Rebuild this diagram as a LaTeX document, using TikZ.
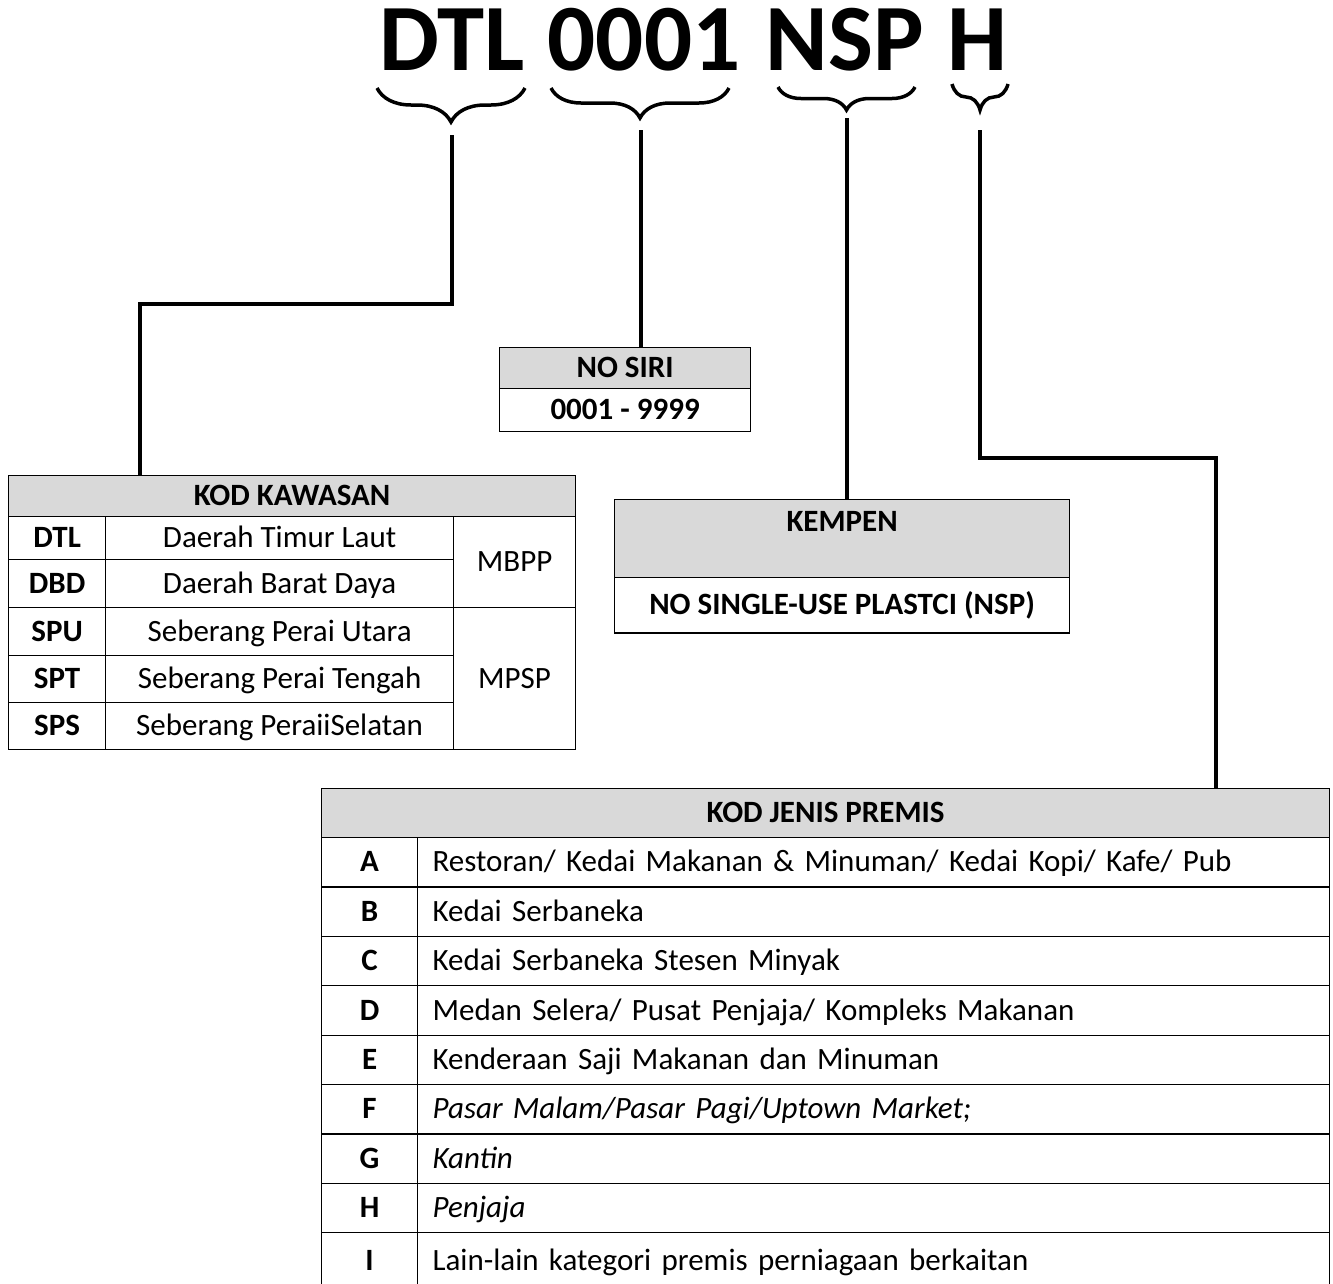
\documentclass[tikz,border=0pt]{standalone}
\usepackage{fontspec}
\setmainfont{Carlito}
\usetikzlibrary{decorations.pathreplacing}
\definecolor{headgray}{HTML}{D9D9D9}
\newcommand{\tabfont}{\fontsize{31}{37}\selectfont}

\begin{document}
\begin{tikzpicture}[x=1pt,y=-1pt,
	cell/.style={draw,line width=1.2pt,anchor=north west,inner sep=0pt,font=\tabfont,text height=22pt,text depth=3pt},
	codecell/.style={cell,font=\tabfont\bfseries},
	headcell/.style={cell,fill=headgray,font=\tabfont\bfseries},
	desccell/.style={cell,minimum height=49.4pt,text width=882pt,inner xsep=15pt,align=left},
	link/.style={line width=4pt},
	curly/.style={decorate,line width=3.5pt,decoration={brace,mirror,amplitude=#1}}]
\useasboundingbox (0,0) rectangle (1333,1283);

% the code
\node (dtl) at (452,70) [anchor=base,font=\fontsize{95}{100}\selectfont\bfseries] {DTL};
\node (num) at (644,70) [anchor=base,font=\fontsize{95}{100}\selectfont\bfseries] {0001};
\node (nsp) at (845,70) [anchor=base,font=\fontsize{95}{100}\selectfont\bfseries] {NSP};
\node (h) at (977,70) [anchor=base,font=\fontsize{95}{100}\selectfont\bfseries] {H};
\draw [curly=34pt] (377,88) -- (525,88);
\draw [curly=30pt] (551,88) -- (729,88);
\draw [curly=23pt] (778,87) -- (915,87);
\draw [curly=26pt] (952,84) -- (1008,84);
\coordinate (dtltip) at (452,135);
\coordinate (numtip) at (641,130);
\coordinate (nsptip) at (847,118);
\coordinate (htip) at (980,130);

% kod kawasan
\node [headcell,minimum width=567pt,minimum height=41pt] (kawasan) at (8,475) {KOD KAWASAN};
\node [codecell,minimum width=97pt,minimum height=43pt] (dtlcode) at (8,516) {DTL};
\node [cell,minimum width=348pt,minimum height=43pt] (dtlname) at (105,516) {Daerah Timur Laut};
\node [codecell,minimum width=97pt,minimum height=48pt] (dbdcode) at (8,559) {DBD};
\node [cell,minimum width=348pt,minimum height=48pt] (dbdname) at (105,559) {Daerah Barat Daya};
\node [codecell,minimum width=97pt,minimum height=48pt] (spucode) at (8,607) {SPU};
\node [cell,minimum width=348pt,minimum height=48pt] (spuname) at (105,607) {Seberang Perai Utara};
\node [codecell,minimum width=97pt,minimum height=47pt] (sptcode) at (8,655) {SPT};
\node [cell,minimum width=348pt,minimum height=47pt] (sptname) at (105,655) {Seberang Perai Tengah};
\node [codecell,minimum width=97pt,minimum height=47pt] (spscode) at (8,702) {SPS};
\node [cell,minimum width=348pt,minimum height=47pt] (spsname) at (105,702) {Seberang PeraiiSelatan};
\node [cell,minimum width=122pt,minimum height=91pt] (mbpp) at (453,516) {MBPP};
\node [cell,minimum width=122pt,minimum height=142pt] (mpsp) at (453,607) {MPSP};

% no siri
\node [headcell,minimum width=251pt,minimum height=41pt] (siri) at (499,347) {NO SIRI};
\node [codecell,minimum width=251pt,minimum height=43pt] (sirival) at (499,388) {0001 - 9999};

% kempen
\node [headcell,minimum width=455pt,minimum height=78pt,text depth=36pt] (kempen) at (614,499) {KEMPEN};
\node [codecell,minimum width=455pt,minimum height=55pt] (kempenval) at (614,577) {NO SINGLE-USE PLASTCI (NSP)};
\draw [line width=2.5pt] (kempenval.south west) -- (kempenval.south east);

% kod jenis premis
\node [headcell,minimum width=1008pt,minimum height=49pt] (premis) at (321,788) {KOD JENIS PREMIS};
\node [codecell,minimum width=96pt,minimum height=49.4pt] (codea) at (321,837) {A};
\node [desccell] (texta) at (417,837) {Restoran/ Kedai Makanan \& Minuman/ Kedai Kopi/ Kafe/ Pub};
\node [codecell,minimum width=96pt,minimum height=49.4pt] (codeb) at (321,886.4) {B};
\node [desccell] (textb) at (417,886.4) {Kedai Serbaneka};
\node [codecell,minimum width=96pt,minimum height=49.4pt] (codec) at (321,935.8) {C};
\node [desccell] (textc) at (417,935.8) {Kedai Serbaneka Stesen Minyak};
\node [codecell,minimum width=96pt,minimum height=49.4pt] (coded) at (321,985.2) {D};
\node [desccell] (textd) at (417,985.2) {Medan Selera/ Pusat Penjaja/ Kompleks Makanan};
\node [codecell,minimum width=96pt,minimum height=49.4pt] (codee) at (321,1034.6) {E};
\node [desccell] (texte) at (417,1034.6) {Kenderaan Saji Makanan dan Minuman};
\node [codecell,minimum width=96pt,minimum height=49.4pt] (codef) at (321,1084) {F};
\node [desccell] (textf) at (417,1084) {\itshape Pasar Malam/Pasar Pagi/Uptown Market;};
\node [codecell,minimum width=96pt,minimum height=49.4pt] (codeg) at (321,1133.4) {G};
\node [desccell] (textg) at (417,1133.4) {\itshape Kantin};
\node [codecell,minimum width=96pt,minimum height=49.4pt] (codeh) at (321,1182.8) {H};
\node [desccell] (texth) at (417,1182.8) {\itshape Penjaja};
\node [codecell,minimum width=96pt,minimum height=56pt] (codei) at (321,1232.2) {I};
\node [desccell,minimum height=56pt] (texti) at (417,1232.2) {Lain-lain kategori premis perniagaan berkaitan};

% connectors
\draw [link] (dtltip) -- ++(0,169) -| ([xshift=132pt]kawasan.north west);
\draw [link] (numtip) -- (numtip |- siri.north);
\draw [link] (nsptip) -- (nsptip |- kempen.north);
\draw [link] (htip) -- ++(0,328) -| ([xshift=895pt]premis.north west);
\end{tikzpicture}
\end{document}
